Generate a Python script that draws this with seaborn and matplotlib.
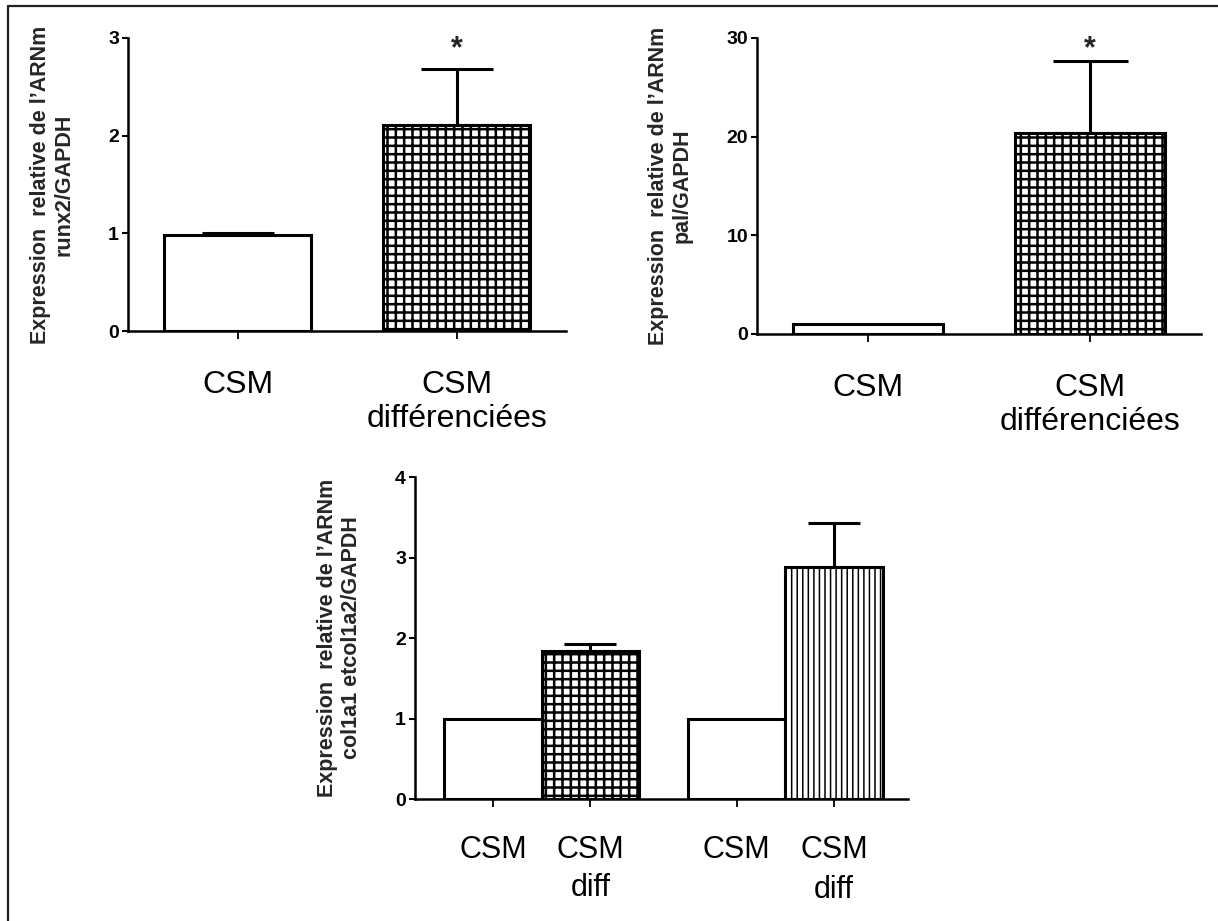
import numpy as np
import pandas as pd
import seaborn as sns
import matplotlib.pyplot as plt
from matplotlib.lines import Line2D

# données
groupes_haut = ['CSM', 'CSM\ndifférenciées']
runx2_moy = [0.98, 2.11]
runx2_err = [0.02, 0.57]
pal_moy = [1.0, 20.4]
pal_err = [0.0, 7.3]

pos_bas = [0.0, 1.0, 2.5, 3.5]
labels_bas = ['CSM', 'CSM\ndiff', 'CSM', 'CSM\ndiff']
col_moy = [1.0, 1.84, 1.0, 2.88]
col_err = [0.0, 0.09, 0.0, 0.55]

hachures_haut = ['', '++']
hachures_bas = ['', '++', '', '|||']

sns.set_style('ticks')
plt.rcParams['font.family'] = ['Liberation Sans', 'DejaVu Sans']
plt.rcParams['hatch.linewidth'] = 1.8
plt.rcParams['hatch.color'] = 'black'

fig = plt.figure(figsize=(12.18, 9.21), dpi=100)

# cadre (bords gauche et haut visibles seulement)
fig.add_artist(Line2D([8 / 1218, 8 / 1218], [0, 1 - 6 / 921], color='#222222', lw=1.6))
fig.add_artist(Line2D([8 / 1218, 1], [1 - 6 / 921, 1 - 6 / 921], color='#222222', lw=1.6))


def style_axe(ax, ylab, xfont, xpad):
    sns.despine(ax=ax)
    for s in ['left', 'bottom']:
        ax.spines[s].set_linewidth(1.8)
        ax.spines[s].set_color('black')
    ax.tick_params(axis='y', length=4.5, width=1.5, pad=2, labelsize=14, colors='black')
    ax.tick_params(axis='x', length=6, width=1.3, pad=xpad, labelsize=xfont, colors='black')
    for t in ax.get_yticklabels():
        t.set_fontweight('bold')
    ax.set_xlabel('')
    ax.set_ylabel(ylab, fontsize=15.5, fontweight='bold', labelpad=24, linespacing=1.2)


def hachurer(ax, motifs):
    for p, h in zip(ax.patches, motifs):
        p.set_hatch(h)
        if h == '|||' and hasattr(p, 'set_hatch_linewidth'):
            p.set_hatch_linewidth(1.1)


def barres_erreur(ax, x, y, err, cap):
    x = np.asarray(x)
    y = np.asarray(y)
    err = np.asarray(err)
    m = err > 0
    ax.errorbar(x[m], y[m], yerr=[np.zeros(m.sum()), err[m]], fmt='none',
                ecolor='black', elinewidth=2.2, capsize=cap, capthick=2.2, zorder=1)


# panneau runx2
ax1 = fig.add_axes([128 / 1218, 1 - 331 / 921, 438 / 1218, 293 / 921])
df1 = pd.DataFrame({'groupe': groupes_haut, 'val': runx2_moy})
sns.barplot(data=df1, x='groupe', y='val', color='white', edgecolor='black',
            linewidth=2.2, width=0.67, ax=ax1, zorder=2)
hachurer(ax1, hachures_haut)
barres_erreur(ax1, [0, 1], runx2_moy, runx2_err, 26)
ax1.set_ylim(0, 3)
ax1.set_yticks([0, 1, 2, 3])
ax1.set_xlim(-0.5, 1.5)
ax1.text(1, 2.88, '*', ha='center', va='center', fontsize=22, fontweight='bold')
style_axe(ax1, 'Expression  relative de l’ARNm\nrunx2/GAPDH', 23, 22)

# panneau pal
ax2 = fig.add_axes([757 / 1218, 1 - 334 / 921, 444 / 1218, 296 / 921])
df2 = pd.DataFrame({'groupe': groupes_haut, 'val': pal_moy})
sns.barplot(data=df2, x='groupe', y='val', color='white', edgecolor='black',
            linewidth=2.2, width=0.68, ax=ax2, zorder=2)
hachurer(ax2, hachures_haut)
barres_erreur(ax2, [0, 1], pal_moy, pal_err, 27)
ax2.set_ylim(0, 30)
ax2.set_yticks([0, 10, 20, 30])
ax2.set_xlim(-0.5, 1.5)
ax2.text(1, 28.9, '*', ha='center', va='center', fontsize=22, fontweight='bold')
style_axe(ax2, 'Expression  relative de l’ARNm\npal/GAPDH', 23, 22)

# panneau col1a1 / col1a2
ax3 = fig.add_axes([415 / 1218, 1 - 799 / 921, 493 / 1218, 322 / 921])
df3 = pd.DataFrame({'pos': pos_bas, 'val': col_moy})
sns.barplot(data=df3, x='pos', y='val', native_scale=True, color='white',
            edgecolor='black', linewidth=2.2, width=1.0, ax=ax3, zorder=2)
hachurer(ax3, hachures_bas)
barres_erreur(ax3, pos_bas, col_moy, col_err, 19)
ax3.set_ylim(0, 4)
ax3.set_yticks([0, 1, 2, 3, 4])
ax3.set_xlim(-0.8, 4.26)
ax3.set_xticks(pos_bas)
ax3.set_xticklabels(labels_bas)
style_axe(ax3, 'Expression  relative de l’ARNm\ncol1a1 etcol1a2/GAPDH', 22, 20)
for i, t in enumerate(ax3.get_xticklabels()):
    t.set_linespacing(1.45 if i == 3 else 1.35)

fig.savefig('out.png', dpi=100)
